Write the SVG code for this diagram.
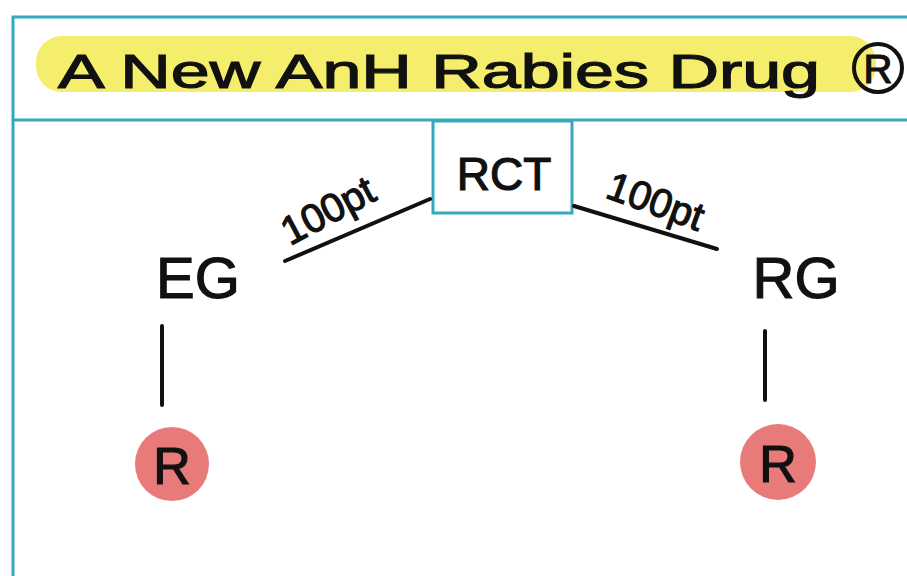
<svg xmlns="http://www.w3.org/2000/svg" width="907" height="576" viewBox="0 0 907 576">
<style>
.hand{font-family:"Liberation Sans","DejaVu Sans",sans-serif;fill:#111;stroke:#111;stroke-width:1.2}
.teal{fill:none;stroke:#36a9bd;stroke-width:3}
.ink{stroke:#111;stroke-width:4;stroke-linecap:round;fill:none}
.pink{fill:#e87a7a}
</style>
<rect width="907" height="576" fill="#ffffff"/>
<g id="frame">
<rect class="teal" x="13" y="17" width="910" height="580"/>
<line class="teal" x1="13" y1="120" x2="907" y2="120"/>
</g>
<g id="title">
<rect x="36" y="36" width="840" height="56" rx="26" fill="#f4ee6c"/>
<text class="hand" x="58" y="88" font-size="48" textLength="762" lengthAdjust="spacingAndGlyphs">A New AnH Rabies Drug</text>
<circle cx="878" cy="68" r="24" fill="none" stroke="#111" stroke-width="4"/>
<text class="hand" x="878" y="83" font-size="40" text-anchor="middle">R</text>
</g>
<g id="rct">
<rect x="433" y="121" width="139" height="92" fill="#fff" stroke="#36a9bd" stroke-width="3"/>
<text class="hand" x="504" y="190" font-size="46" text-anchor="middle">RCT</text>
</g>
<g id="eg">
<text class="hand" x="198" y="298" font-size="58" text-anchor="middle">EG</text>
</g>
<g id="rg">
<text class="hand" x="796" y="298" font-size="58" text-anchor="middle">RG</text>
</g>
<g id="r-left">
<circle class="pink" cx="172" cy="464" r="37"/>
<text class="hand" x="172" y="484" font-size="52" text-anchor="middle">R</text>
</g>
<g id="r-right">
<circle class="pink" cx="778" cy="462" r="38"/>
<text class="hand" x="778" y="482" font-size="52" text-anchor="middle">R</text>
</g>
<g id="connectors">
<line class="ink" x1="285" y1="261" x2="430" y2="199"/>
<line class="ink" x1="574" y1="206" x2="717" y2="249"/>
<line class="ink" x1="162" y1="326" x2="162" y2="405"/>
<line class="ink" x1="765" y1="331" x2="765" y2="400"/>
<text class="hand" x="0" y="0" font-size="40" transform="translate(290 246) rotate(-28)">100pt</text>
<text class="hand" x="0" y="0" font-size="40" transform="translate(604 197) rotate(20)">100pt</text>
</g>
</svg>
